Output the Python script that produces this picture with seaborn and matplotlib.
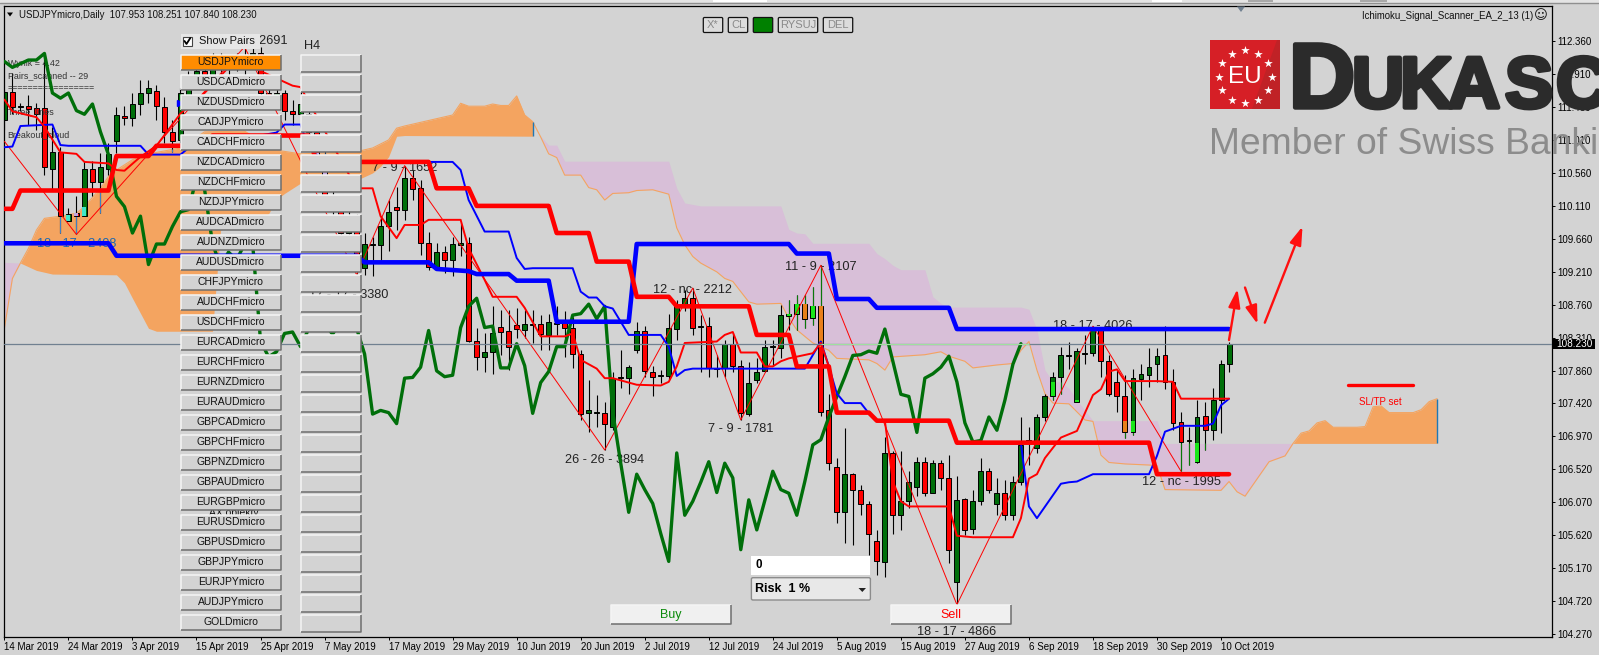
import numpy as np
import matplotlib
matplotlib.use("Agg")
import matplotlib.pyplot as plt
import matplotlib.patheffects as pe
from matplotlib.patches import Rectangle, Polygon, FancyBboxPatch
import seaborn as sns

# ===============================
# DATA
# ===============================
date_labels = ["14 Mar 2019", "24 Mar 2019", "3 Apr 2019", "15 Apr 2019", "25 Apr 2019", "7 May 2019",
               "17 May 2019", "29 May 2019", "10 Jun 2019", "20 Jun 2019", "2 Jul 2019", "12 Jul 2019",
               "24 Jul 2019", "5 Aug 2019", "15 Aug 2019", "27 Aug 2019", "6 Sep 2019", "18 Sep 2019",
               "30 Sep 2019", "10 Oct 2019"]
price_ticks = [112.36, 111.91, 111.46, 111.01, 110.56, 110.11, 109.66, 109.21, 108.76, 108.31,
               107.86, 107.42, 106.97, 106.52, 106.07, 105.62, 105.17, 104.72, 104.27]

candle_open = [111.28, 111.66, 111.46, 111.47, 111.44, 111.44, 110.62, 110.84, 109.91, 110.01,
               109.97, 110.62, 110.44, 110.62, 111.00, 111.34, 111.31, 111.50, 111.65, 111.68,
               111.46, 111.12, 111.01, 111.60, 111.80, 111.95, 111.85, 112.08, 112.00, 112.05,
               112.00, 112.10, 112.19, 111.65, 111.58, 111.65, 111.41, 111.37, 111.37, 111.12,
               110.81, 110.24, 110.10, 109.74, 109.97, 109.26, 109.58, 109.57, 109.84, 110.10,
               110.05, 110.49, 110.35, 109.60, 109.27, 109.48, 109.37, 109.58, 109.61, 108.27,
               108.05, 108.12, 108.46, 108.40, 108.49, 108.42, 108.49, 108.50, 108.35, 108.50,
               108.51, 108.44, 108.09, 107.28, 107.28, 107.28, 107.10, 107.76, 107.76, 108.15,
               108.41, 107.85, 107.79, 107.79, 108.43, 108.74, 108.85, 108.46, 108.47, 107.89,
               107.90, 108.23, 107.93, 107.27, 107.74, 107.86, 108.19, 108.17, 108.61, 108.64,
               108.77, 108.58, 108.74, 107.32, 106.55, 105.93, 106.45, 106.24, 106.05, 105.54,
               105.25, 106.74, 105.89, 106.08, 106.28, 106.61, 106.20, 106.60, 106.40, 104.98,
               106.11, 105.70, 106.09, 106.49, 106.04, 106.19, 105.89, 106.34, 106.90, 106.81,
               107.23, 107.51, 107.78, 108.06, 107.44, 108.09, 108.11, 108.42, 107.99, 107.71,
               107.52, 107.03, 107.75, 107.80, 107.95, 108.08, 107.71, 107.16, 106.90, 106.61,
               107.24, 107.05, 107.46, 107.953]
candle_high = [111.69, 111.92, 111.51, 111.62, 111.51, 112.19, 111.19, 110.92, 110.08, 110.24,
               110.72, 110.72, 110.83, 110.97, 111.46, 111.47, 111.65, 111.83, 111.83, 111.76,
               111.60, 111.28, 111.72, 111.95, 112.10, 112.10, 112.20, 112.20, 112.15, 112.20,
               112.28, 112.28, 112.28, 111.80, 111.80, 111.69, 111.56, 111.67, 111.42, 111.20,
               110.90, 110.40, 110.20, 110.10, 110.00, 109.74, 109.69, 109.97, 110.19, 110.37,
               110.66, 110.60, 110.47, 109.76, 109.60, 109.56, 109.69, 109.87, 109.69, 108.44,
               108.37, 108.74, 108.69, 108.69, 108.72, 108.69, 108.69, 108.62, 108.64, 108.74,
               108.67, 108.60, 108.15, 107.74, 107.53, 107.44, 107.85, 108.15, 107.94, 108.53,
               108.47, 107.93, 107.87, 108.64, 108.83, 108.96, 108.99, 108.62, 108.60, 108.08,
               108.28, 108.37, 108.01, 107.98, 108.03, 108.28, 108.28, 108.76, 108.83, 108.89,
               108.89, 109.01, 109.30, 107.55, 106.67, 107.08, 106.46, 106.30, 106.08, 105.69,
               106.96, 106.76, 106.76, 106.49, 106.68, 106.68, 106.64, 106.64, 106.71, 106.42,
               106.13, 106.24, 106.67, 106.53, 106.40, 106.37, 106.43, 107.23, 107.09, 107.27,
               107.55, 107.85, 108.19, 108.25, 108.17, 108.35, 108.47, 108.46, 108.08, 107.87,
               107.80, 107.89, 107.95, 108.17, 108.17, 108.47, 107.88, 107.30, 107.10, 107.46,
               107.44, 107.62, 108.01, 108.251]
candle_low = [111.15, 111.37, 111.40, 111.22, 111.15, 110.53, 110.33, 109.74, 109.91, 109.72,
              109.97, 110.24, 110.01, 110.53, 110.83, 111.22, 111.20, 111.35, 111.51, 111.28,
              110.97, 110.85, 110.97, 111.50, 111.70, 111.75, 111.80, 111.90, 111.90, 111.95,
              111.90, 112.00, 111.60, 111.50, 111.45, 111.28, 111.22, 111.22, 111.06, 110.70,
              110.15, 109.95, 109.60, 109.60, 109.17, 109.17, 109.15, 109.37, 109.49, 109.78,
              109.92, 110.19, 109.44, 109.24, 109.26, 109.19, 109.15, 109.42, 108.26, 107.87,
              107.84, 107.81, 108.08, 107.87, 108.31, 108.31, 108.24, 108.15, 108.15, 108.35,
              108.05, 107.90, 107.19, 107.03, 107.10, 106.78, 107.05, 107.62, 107.55, 108.10,
              107.78, 107.52, 107.69, 107.74, 108.28, 108.67, 108.35, 107.85, 107.78, 107.78,
              107.78, 107.85, 107.19, 107.24, 107.69, 107.85, 107.92, 108.03, 108.42, 108.42,
              108.44, 108.49, 107.24, 106.51, 105.78, 105.51, 105.49, 105.89, 105.35, 105.08,
              105.05, 105.64, 105.69, 105.99, 106.15, 106.15, 106.19, 106.24, 105.24, 104.67,
              105.62, 105.64, 106.03, 106.19, 105.89, 105.83, 105.82, 106.30, 106.58, 106.74,
              107.17, 107.46, 107.55, 107.89, 107.43, 107.96, 108.06, 107.78, 107.51, 107.30,
              106.95, 106.98, 107.46, 107.64, 107.71, 107.61, 107.05, 106.49, 106.58, 106.60,
              106.78, 106.92, 107.01, 107.84]
candle_close = [111.67, 111.46, 111.47, 111.43, 111.37, 110.64, 110.84, 109.97, 110.00, 109.97,
                110.62, 110.44, 110.64, 110.82, 111.35, 111.31, 111.50, 111.65, 111.72, 111.47,
                111.12, 111.00, 111.65, 111.80, 111.95, 111.85, 112.08, 112.00, 112.05, 112.10,
                112.10, 112.19, 111.65, 111.58, 111.65, 111.41, 111.36, 111.50, 111.12, 110.81,
                110.24, 110.10, 109.74, 109.97, 109.31, 109.59, 109.59, 109.83, 110.03, 110.06,
                110.49, 110.34, 109.60, 109.28, 109.48, 109.37, 109.59, 109.61, 108.27, 108.05,
                108.12, 108.37, 108.39, 108.19, 108.43, 108.50, 108.50, 108.36, 108.53, 108.51,
                108.44, 108.09, 107.27, 107.32, 107.29, 107.14, 107.76, 107.77, 107.91, 108.41,
                107.86, 107.78, 107.80, 108.45, 108.74, 108.85, 108.45, 108.47, 107.90, 107.90,
                108.23, 107.93, 107.28, 107.70, 107.85, 108.19, 108.19, 108.62, 108.64, 108.77,
                108.57, 108.74, 107.30, 106.60, 105.93, 106.45, 106.24, 106.05, 105.64, 105.26,
                106.74, 105.89, 106.08, 106.34, 106.62, 106.20, 106.60, 106.40, 105.42, 106.10,
                105.69, 106.09, 106.49, 106.24, 106.19, 105.89, 106.35, 106.85, 106.92, 107.23,
                107.51, 107.78, 108.07, 108.08, 108.13, 108.10, 108.43, 107.99, 107.54, 107.51,
                107.02, 107.76, 107.82, 107.91, 108.06, 107.71, 107.15, 106.89, 106.91, 107.23,
                107.05, 107.46, 107.95, 108.23]

# Thick Kijun lines
thick_red_x = [0, 1, 2, 13, 14, 18, 19, 25, 26, 38, 39, 53, 54, 58, 59, 68, 69, 73, 74, 78, 79, 83, 84,
               93, 94, 98, 99, 103, 104, 108, 109, 118, 119, 143, 144, 153]
thick_red_y = [110.07, 110.07, 110.32, 110.32, 110.79, 110.79, 110.93, 110.93, 111.07, 111.07, 110.71,
               110.71, 110.35, 110.35, 110.11, 110.11, 109.74, 109.74, 109.35, 109.35, 108.87, 108.87,
               108.74, 108.74, 108.35, 108.35, 107.92, 107.92, 107.29, 107.29, 107.18, 107.18, 106.88,
               106.88, 106.45, 106.45]
thick_blue_x = [0, 13, 14, 44, 45, 53, 54, 58, 59, 63, 64, 68, 69, 78, 79, 98, 99, 103, 104, 108, 109,
                118, 119, 153]
thick_blue_y = [109.60, 109.60, 109.43, 109.43, 109.34, 109.34, 109.25, 109.22, 109.18, 109.18, 109.09,
                109.09, 108.53, 108.53, 109.59, 109.59, 109.46, 109.46, 108.84, 108.84, 108.72, 108.72,
                108.43, 108.43]

# Thin Tenkan / Kijun lines
thin_blue_x = [0, 1, 2, 6, 7, 8, 17, 18, 22, 23, 34, 35, 37, 38, 40, 56, 57, 58, 60, 63, 64, 65, 66, 71,
               72, 73, 74, 75, 76, 78, 82, 83, 84, 85, 86, 100, 102, 103, 104, 105, 107, 108, 109, 118,
               119, 127, 128, 129, 132, 133, 134, 136, 143, 144, 145, 147, 150, 151, 152, 153]
thin_blue_y = [110.91, 110.92, 111.20, 111.22, 110.94, 110.93, 110.93, 110.81, 110.81, 110.90, 111.11,
               111.22, 111.22, 110.90, 110.71, 110.71, 110.60, 110.19, 109.76, 109.76, 109.40, 109.25,
               109.26, 109.26, 108.94, 108.86, 108.86, 108.74, 108.71, 108.35, 108.35, 108.19, 107.79,
               107.87, 107.89, 107.89, 108.26, 107.92, 107.55, 107.42, 107.42, 107.28, 107.18, 107.18,
               106.87, 106.87, 106.01, 105.85, 106.32, 106.34, 106.35, 106.45, 106.45, 106.70, 107.03,
               107.11, 107.11, 107.14, 107.39, 107.48]
thin_red_x = [0, 1, 4, 5, 7, 9, 10, 13, 14, 15, 17, 19, 22, 25, 28, 31, 34, 36, 37, 44, 46, 47, 49, 50,
              52, 53, 57, 58, 60, 61, 64, 65, 67, 70, 71, 72, 74, 75, 76, 79, 82, 83, 84, 85, 89, 90, 91,
              92, 94, 95, 96, 97, 98, 101, 102, 103, 104, 108, 109, 110, 111, 112, 113, 118, 119, 121,
              126, 127, 128, 129, 130, 132, 134, 136, 137, 138, 139, 140, 144, 146, 147, 153]
thin_red_y = [111.56, 111.40, 111.32, 111.19, 110.84, 110.82, 110.71, 110.69, 110.60, 110.59, 110.78,
              110.93, 111.37, 111.65, 112.00, 112.00, 111.85, 111.75, 111.73, 110.35, 110.35, 109.97,
              109.67, 109.85, 109.85, 109.92, 109.92, 109.53, 109.10, 108.87, 108.87, 108.72, 108.33,
              108.33, 108.37, 108.01, 107.89, 107.76, 107.76, 107.67, 107.66, 107.71, 107.92, 108.24,
              108.26, 108.35, 108.39, 108.11, 108.11, 107.92, 107.92, 107.99, 108.03, 108.10, 108.24,
              107.92, 107.29, 107.29, 107.18, 107.18, 106.35, 106.08, 106.01, 106.01, 105.61, 105.59,
              105.59, 105.85, 106.39, 106.45, 106.67, 106.95, 107.04, 107.53, 107.61, 107.85, 107.88,
              107.72, 107.72, 107.71, 107.48, 107.48]

# ZigZag swing points
zigzag_x = [0, 9, 30, 44, 50, 75, 86, 92, 102, 119, 136, 147]
zigzag_y = [110.99, 109.72, 112.28, 109.17, 110.66, 106.78, 108.99, 107.19, 109.30, 104.67, 108.47, 106.49]
swing_labels = ["18 - 17 - 2408", "18 - 17 - 2691", "7 - 9 - 1652", "17 - 17 - 3380", "26 - 26 - 3894",
                "12 - nc - 2212", "7 - 9 - 1781", "11 - 9 - 2107", "18 - 17 - 4866", "18 - 17 - 4026",
                "12 - nc - 1995"]
swing_label_x = [9, 30.4, 50, 43, 75, 86, 92, 102, 119, 136, 147]
swing_label_y = [109.59, 112.36, 110.63, 108.89, 106.64, 108.96, 107.07, 109.28, 104.30, 108.47, 106.34]

# Ichimoku cloud edges
span_a_x = [0, 1, 2, 3, 4, 5, 7, 9, 10, 12, 13, 14, 16, 18, 22, 25, 30, 34, 37, 44, 46, 48, 49, 50, 56, 57,
            58, 60, 61, 62, 63, 64, 65, 66, 67, 68, 69, 70, 72, 73, 74, 75, 76, 78, 79, 81, 83, 84, 85, 86,
            87, 89, 90, 91, 92, 93, 94, 97, 98, 99, 101, 103, 104, 108, 109, 110, 111, 115, 117, 118, 120,
            121, 124, 126, 127, 128, 129, 130, 131, 133, 135, 136, 137, 138, 140, 144, 145, 152, 153, 154,
            155, 158, 160, 161, 162, 163, 164, 165, 166, 169, 170, 171, 172, 173, 176, 177, 178, 179]
span_a_y = [108.44, 109.12, 109.33, 109.53, 109.78, 109.94, 109.97, 110.01, 110.10, 110.35, 110.51, 110.60,
            110.74, 110.82, 110.90, 111.12, 111.13, 110.87, 110.82, 110.85, 110.90, 111.01, 111.17, 111.20,
            111.35, 111.51, 111.47, 111.47, 111.50, 111.48, 111.48, 111.61, 111.35, 111.26, 111.05, 110.82,
            110.77, 110.53, 110.53, 110.36, 110.33, 110.19, 110.28, 110.29, 110.32, 110.33, 110.27, 109.81,
            109.58, 109.42, 109.33, 109.21, 109.12, 109.08, 108.94, 108.80, 108.77, 108.78, 108.58, 108.42,
            108.24, 108.14, 108.03, 108.01, 107.96, 107.87, 108.05, 108.08, 108.12, 108.06, 107.99, 107.90,
            107.94, 107.96, 108.14, 108.26, 107.87, 107.55, 107.42, 107.41, 107.19, 107.17, 106.71, 106.61,
            106.59, 106.57, 106.24, 106.23, 106.35, 106.21, 106.15, 106.62, 106.70, 106.87, 107.01, 107.04,
            107.15, 107.18, 107.09, 107.09, 107.10, 107.37, 107.38, 107.29, 107.29, 107.33, 107.44, 107.48]
span_b_x = [0, 2, 3, 4, 6, 14, 15, 16, 18, 19, 26, 27, 33, 34, 35, 37, 44, 46, 47, 48, 49, 50, 67, 68, 69, 70,
            83, 84, 85, 86, 87, 97, 98, 99, 100, 101, 108, 109, 110, 111, 112, 115, 116, 117, 118, 127, 128,
            129, 130, 131, 132, 133, 134, 136, 144, 145, 179]
span_b_y = [109.34, 109.33, 109.28, 109.23, 109.18, 109.17, 109.06, 108.85, 108.44, 108.40, 108.40, 109.78,
            110.00, 110.20, 110.28, 110.42, 110.46, 110.56, 110.65, 110.78, 111.06, 111.07, 111.06, 110.94,
            110.94, 110.72, 110.72, 110.35, 110.15, 110.13, 110.11, 110.11, 109.79, 109.74, 109.73, 109.60,
            109.60, 109.46, 109.39, 109.30, 109.24, 109.24, 108.87, 108.78, 108.73, 108.73, 108.70, 108.42,
            107.87, 107.71, 107.71, 107.62, 107.46, 107.18, 107.18, 106.87, 106.87]

last_price = 108.23
pair_names = ["USDJPYmicro", "USDCADmicro", "NZDUSDmicro", "CADJPYmicro", "CADCHFmicro", "NZDCADmicro",
              "NZDCHFmicro", "NZDJPYmicro", "AUDCADmicro", "AUDNZDmicro", "AUDUSDmicro", "CHFJPYmicro",
              "AUDCHFmicro", "USDCHFmicro", "EURCADmicro", "EURCHFmicro", "EURNZDmicro", "EURAUDmicro",
              "GBPCADmicro", "GBPCHFmicro", "GBPNZDmicro", "GBPAUDmicro", "EURGBPmicro", "EURUSDmicro",
              "GBPUSDmicro", "GBPJPYmicro", "EURJPYmicro", "AUDJPYmicro", "GOLDmicro"]
info_lines = ["Wynik = 4.42", "Pairs_scanned -- 29", "=================", "Three_lines", "Breakout_cloud"]
info_y = [112.05, 111.88, 111.72, 111.39, 111.08]

# ===============================
# STYLE
# ===============================
BG = "#d3d3d3"
GREEN = "#006f0a"
sns.set_theme(style="ticks", rc={"axes.facecolor": BG, "figure.facecolor": BG})
plt.rcParams["font.family"] = ["Liberation Sans", "DejaVu Sans"]

fig = plt.figure(figsize=(15.99, 6.55), dpi=100)
ax = fig.add_axes([4 / 1599, 18 / 655, 1548 / 1599, 631 / 655])
ax.set_xlim(-0.05, 193.35)
ax.set_ylim(104.229, 112.837)

# ===============================
# ICHIMOKU CLOUD
# ===============================
bars = np.arange(len(candle_close))
cloud_x = np.union1d(span_a_x, span_b_x)
cloud_a = np.interp(cloud_x, span_a_x, span_a_y)
cloud_b = np.interp(cloud_x, span_b_x, span_b_y)

for lo, hi, colour in [(0, 2, "#d8bfd8"), (2, 66, "#f4a460"), (67, 161, "#d8bfd8"), (161, 179, "#f4a460")]:
    part = (cloud_x >= lo) & (cloud_x <= hi)
    ax.fill_between(cloud_x[part], cloud_a[part], cloud_b[part], color=colour, lw=0, zorder=1)

sns.lineplot(x=span_a_x, y=span_a_y, color="#f4a460", linewidth=0.8, estimator=None, sort=False, ax=ax, zorder=1.5)
ax.vlines([66, 179], [111.07, 106.87], [111.26, 107.48], color="#1f77b4", lw=1, zorder=1.5)

# ===============================
# CANDLES
# ===============================
c_open = np.array(candle_open)
c_close = np.array(candle_close)
c_high = np.array(candle_high)
c_low = np.array(candle_low)
body_top = np.maximum(c_open, c_close)
body_bot = np.minimum(c_open, c_close)
is_up = c_close >= c_open
cloud_top = np.maximum(np.interp(bars, cloud_x, cloud_a), np.interp(bars, cloud_x, cloud_b))
cloud_bot = np.minimum(np.interp(bars, cloud_x, cloud_a), np.interp(bars, cloud_x, cloud_b))
in_orange = ((bars >= 2) & (bars <= 66)) | (bars >= 161)

ax.vlines(bars, c_low, c_high, color="black", lw=0.8, zorder=2)
# the terminal mixes colours where a candle sits on top of the cloud
w_top = np.minimum(c_high, cloud_top)
w_bot = np.maximum(c_low, cloud_bot)
hit = w_top > w_bot
ax.vlines(bars[hit], w_bot[hit], w_top[hit], color=np.where(in_orange[hit], "#3f7fc4", "#0a780a"), lw=0.8, zorder=2.05)

ax.bar(bars, np.maximum(body_top - body_bot, 0.012), bottom=body_bot, width=0.62,
       color=np.where(is_up, GREEN, "#ff0000"), edgecolor="black", linewidth=0.7, zorder=2.1)

o_top = np.minimum(body_top, cloud_top)
o_bot = np.maximum(body_bot, cloud_bot)
hit = o_top > o_bot
mix = np.where(is_up, np.where(in_orange, "#40e6c8", "#19e619"), np.where(in_orange, "#c4a6dc", "#e8801a"))
ax.bar(bars[hit], (o_top - o_bot)[hit], bottom=o_bot[hit], width=0.5, color=mix[hit], linewidth=0, zorder=2.2)

# ===============================
# SWING LABELS (below the lines)
# ===============================
for text, lx, ly in zip(swing_labels, swing_label_x, swing_label_y):
    ax.text(lx, ly, text, fontsize=9.2, ha="center", va="center", zorder=2.5,
            color="#1c68b0" if text.endswith("2408") else "#222222")

for line, ly in zip(info_lines, info_y):
    ax.text(0.4, ly, line, fontsize=6.4, va="center", color="#333333", zorder=2.5)

# ===============================
# LINES
# ===============================
sns.lineplot(x=zigzag_x, y=zigzag_y, color="#ff0000", linewidth=0.7, estimator=None, sort=False, ax=ax, zorder=3)
sns.lineplot(x=bars[:-26], y=c_close[26:], color=GREEN, linewidth=2.4, estimator=None, sort=False, ax=ax, zorder=3.1)
sns.lineplot(x=thin_blue_x, y=thin_blue_y, color="#0000ff", linewidth=1.4, estimator=None, sort=False, ax=ax, zorder=3.2)
sns.lineplot(x=thin_red_x, y=thin_red_y, color="#ff0000", linewidth=1.4, estimator=None, sort=False, ax=ax, zorder=3.3)
sns.lineplot(x=thick_blue_x, y=thick_blue_y, color="#0000ff", linewidth=3.3, estimator=None, sort=False, ax=ax, zorder=3.4)
sns.lineplot(x=thick_red_x, y=thick_red_y, color="#ff0000", linewidth=3.3, estimator=None, sort=False, ax=ax, zorder=3.5)

ax.axhline(last_price, color="#708090", lw=0.9, zorder=3.6)
ax.hlines(last_price, 102, 128, color="#9fe09f", lw=0.8, zorder=3.65)
ax.plot([22], [111.51], marker=">", ms=4, color="#0000ff", zorder=3.7)

# ===============================
# AXES
# ===============================
ax.yaxis.tick_right()
ax.set_yticks(price_ticks)
ax.set_yticklabels([f"{p:.3f}" for p in price_ticks], fontsize=7)
ax.set_xticks(bars[::8])
ax.set_xticklabels(date_labels, fontsize=7, ha="left")
ax.tick_params(axis="both", length=2.4, width=0.7, color="black", labelcolor="black", pad=1.5)
ax.tick_params(axis="x", pad=1.2)
for spine in ax.spines.values():
    spine.set_visible(True)
    spine.set_linewidth(0.9)
    spine.set_color("black")

# ===============================
# PANEL OVERLAY (pixel coordinates of the terminal window)
# ===============================
ov = fig.add_axes([0, 0, 1, 1], zorder=10)
ov.set_xlim(0, 1599)
ov.set_ylim(655, 0)
ov.axis("off")
ov.patch.set_alpha(0)


def button(x0, y0, x1, y1, label=None, face=BG, colour="#111111", size=7.5):
    ov.add_patch(Rectangle((x0, y0), x1 - x0, y1 - y0, fc=face, ec="none", zorder=2))
    ov.plot([x0, x0, x1], [y1, y0, y0], color="#f4f4f4", lw=1.1, zorder=3, solid_capstyle="butt")
    ov.plot([x0, x1, x1], [y1, y1, y0], color="#6e6e6e", lw=1.1, zorder=3, solid_capstyle="butt")
    if label:
        ov.text((x0 + x1) / 2, (y0 + y1) / 2, label, fontsize=size, ha="center", va="center",
                color=colour, zorder=4)


def small_box(x0, x1, label=None, face="#dcdcdc"):
    ov.add_patch(FancyBboxPatch((x0, 17.5), x1 - x0, 15, boxstyle="round,pad=0,rounding_size=1.2",
                                fc=face, ec="#111111", lw=0.9, zorder=2))
    if label:
        ov.text((x0 + x1) / 2, 25.5, label, fontsize=8, ha="center", va="center", color="#8a8a8a", zorder=3)


# top window strip
ov.add_patch(Rectangle((0, 0), 1599, 2.5, fc="#e4e4e4", ec="none", zorder=1))
for tab_x0, tab_x1, tab_colour in [(713, 767, "white"), (1152, 1182, "white"), (1248, 1273, "#a8a8a8"),
                                   (1360, 1387, "#a8a8a8")]:
    ov.add_patch(Rectangle((tab_x0, 0), tab_x1 - tab_x0, 2, fc=tab_colour, ec="none", zorder=1))
ov.plot([0, 1599], [2.8, 2.8], color="#8f8f8f", lw=1.0, zorder=1)
ov.add_patch(Polygon([(1237, 6.5), (1245, 6.5), (1241, 12)], fc="#708090", ec="none", zorder=1))

# chart title
ov.add_patch(Polygon([(7, 12.5), (13, 12.5), (10, 16.5)], fc="black", ec="none", zorder=2))
ov.text(19, 14.5, "USDJPYmicro,Daily  107.953 108.251 107.840 108.230", fontsize=6.9, va="center", zorder=2, color="#111111")
ov.text(1533, 16, "Ichimoku_Signal_Scanner_EA_2_13 (1)", fontsize=6.9, va="center", ha="right", zorder=2, color="#111111")
ov.text(1541, 16, "\u263a", fontsize=9.5, va="center", ha="center", family="DejaVu Sans", zorder=2, color="#111111")

# scanner buttons
ov.text(234, 513, "AX objekty", fontsize=7.5, ha="center", va="center", color="#111111", zorder=1)
for i, name in enumerate(pair_names):
    top = 55 + i * 20
    button(181, top, 280.6, top + 14.6, name, face="#ff8c00" if i == 0 else BG)
    button(301, top, 361, top + 17)
ov.text(312, 46, "H4", fontsize=9.2, ha="center", va="center", color="#222222", zorder=3)

# show pairs check box
ov.add_patch(Rectangle((181, 34), 79, 14.5, fc="#e6e6e6", ec="none", zorder=2))
ov.add_patch(Rectangle((182.5, 36.5), 9.5, 9.5, fc="white", ec="#444444", lw=0.8, zorder=3))
ov.plot([184.5, 186.5, 190.3], [41, 44, 38], color="black", lw=1.3, zorder=4)
ov.text(199, 41, "Show Pairs", fontsize=7.9, va="center", color="#111111", zorder=3)

# top tool buttons
small_box(703.3, 722.7, "X*")
small_box(728.3, 747.7, "CL")
small_box(753.3, 772.7, None, face="#008000")
small_box(778.3, 817.7, "RYSUJ")
small_box(823.3, 852.7, "DEL")

# order panel
ov.add_patch(Rectangle((751.4, 556), 119, 19, fc="white", ec="none", zorder=2))
ov.text(755, 565.5, "0", fontsize=8.4, fontweight="bold", va="center", color="black", zorder=3)
ov.add_patch(FancyBboxPatch((751.4, 577.7), 119, 22.3, boxstyle="round,pad=0,rounding_size=1.5",
                            fc="#e8e8e8", ec="#8c8c8c", lw=1, zorder=2))
ov.text(755, 589, "Risk  1 %", fontsize=9, fontweight="bold", va="center", color="black", zorder=3)
ov.add_patch(Polygon([(858.5, 588), (866, 588), (862.3, 592)], fc="#222222", ec="none", zorder=3))
button(611, 605, 731, 624.3, "Buy", face="#f0f0f0", colour="#0a8a0a", size=9)
button(891, 605, 1010.7, 624.3, "Sell", face="#f0f0f0", colour="#ff0000", size=9)

# hand drawn trade arrows
for start, end in [((1229, 340), (1237.5, 289)), ((1245, 287.5), (1257.5, 324)), ((1264.8, 322.7), (1302.5, 226.5))]:
    ov.annotate("", xy=end, xytext=start, zorder=5,
                arrowprops=dict(arrowstyle="-|>,head_length=1.0,head_width=0.32", color="#ff0f0f", lw=1.7,
                                shrinkA=0, shrinkB=0, mutation_scale=11))
ov.plot([1347.7, 1413.3], [385, 385], color="#ff0000", lw=2.4, zorder=5)
ov.text(1380, 401.7, "SL/TP set", fontsize=7, color="#ff0000", ha="center", va="center", zorder=5)

# broker logo
ov.add_patch(Rectangle((1210, 40), 70, 69, fc="#d61f26", ec="none", zorder=6))
ov.add_patch(Polygon([(1277, 40), (1280, 40), (1280, 109), (1252, 109)], fc="#c02226", ec="none", zorder=6))
star_angle = np.deg2rad(np.arange(0, 360, 30) + 90)
ov.scatter(1245 + 26.5 * np.cos(star_angle), 76.7 - 26.5 * np.sin(star_angle), marker="*", s=42, color="white",
           linewidths=0, zorder=7)
ov.text(1245, 77, "EU", fontsize=17.5, color="white", ha="center", va="center", zorder=7)
for letter, lx, lsize in [("D", 1289, 66), ("U", 1352, 52), ("K", 1400, 52), ("A", 1448, 52),
                          ("S", 1505, 52), ("C", 1556, 52)]:
    ov.text(lx, 107.5, letter, fontsize=lsize, fontweight="bold", color="#2b2b2b", ha="left", va="baseline",
            zorder=6, path_effects=[pe.withStroke(linewidth=3.2, foreground="#2b2b2b")])
ov.text(1209, 154, "Member of Swiss Banki", fontsize=26.8, color="#8c8c8c", ha="left", va="baseline", zorder=6)

# price box
ov.add_patch(Rectangle((1553, 339), 42, 10, fc="black", ec="none", zorder=8))
ov.text(1574, 344, "108.230", fontsize=7.2, color="white", ha="center", va="center", zorder=9)

fig.savefig("out.png", dpi=100, facecolor=BG)
